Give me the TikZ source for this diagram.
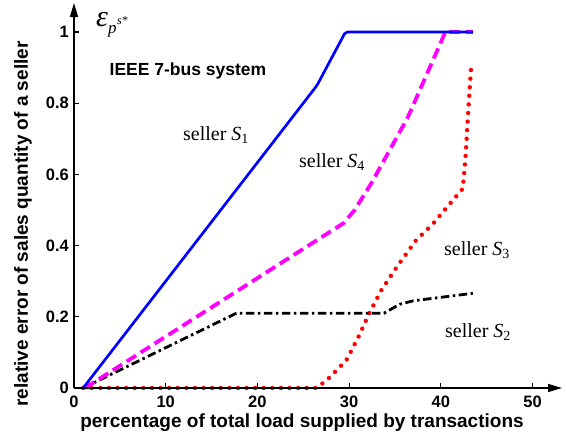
\documentclass[tikz,border=0pt]{standalone}
\usepackage{fontspec}
\setmainfont{Liberation Serif}
\setsansfont{Liberation Sans}
\usetikzlibrary{arrows.meta}
\definecolor{cblue}{RGB}{0,0,255}
\definecolor{cred}{RGB}{255,0,0}
\definecolor{cmag}{RGB}{255,0,255}
\begin{document}
\begin{tikzpicture}[x=1pt,y=-1pt,
  axisline/.style={line width=1.4pt,-{Triangle[length=14pt,width=8pt]}},
  tickline/.style={line width=1.2pt},
  ticklab/.style={font=\sffamily\bfseries\fontsize{16.5}{16.5}\selectfont,inner sep=0pt},
  axislab/.style={font=\sffamily\bfseries\fontsize{19}{19}\selectfont,inner sep=0pt},
  syslab/.style={font=\sffamily\bfseries\fontsize{17.5}{17.5}\selectfont,inner sep=0pt},
  sellerlab/.style={font=\fontsize{20}{20}\selectfont,inner sep=0pt},
  curveA/.style={draw=cblue,line width=2.7pt,line join=round},
  curveB/.style={draw=black,line width=2.8pt,dash pattern=on 8.5pt off 3.5pt on 2.5pt off 3.5pt},
  curveC/.style={draw=cred,line width=4.4pt,line cap=round,dash pattern=on 0pt off 8.6pt},
  curveD/.style={draw=cmag,line width=3.8pt,dash pattern=on 11pt off 5.5pt}]
\useasboundingbox (0,0) rectangle (567,439);
\coordinate (O) at (74,388);
\coordinate (xtip) at (562,388);
\coordinate (ytip) at (74,3);
\begin{scope}[shift={(74,388)},x=9.17pt,y=356pt]
  % curves
  \draw[curveC] (1,0) -- (26.5,0) -- (27.8,0.028) -- (29.7,0.078) -- (31.1,0.148) -- (32.2,0.21) -- (33.5,0.274) -- (35.2,0.34) -- (37.3,0.415) -- (39.1,0.46) -- (41.3,0.527) -- (42.4,0.56) -- (42.7,0.65) -- (43,0.78) -- (43.3,0.9);
  \draw[curveB] (1,0) -- (17.7,0.21) -- (33.8,0.21) -- (35.5,0.235) -- (37,0.245) -- (43.5,0.266);
  \draw[curveD] (1.2,0) -- (29.4,0.463) -- (30.6,0.5) -- (32.4,0.574) -- (34.4,0.667) -- (36.4,0.76) -- (40.5,1) -- (43.5,1);
  \draw[curveA,rounded corners=2pt] (1,0) -- (26.5,0.85) -- (29.6,1) -- (43.5,1);
  % ticks
  \foreach \v in {0.2,0.4,0.6,0.8,1}
    \draw[tickline] (0,\v) -- ++(5pt,0pt);
  \foreach \v/\t in {0/0,0.2/0.2,0.4/0.4,0.6/0.6,0.8/0.8,1/1}
    \node[ticklab,anchor=east] (yl\t) at ([xshift=-5pt]0,\v) {\t};
  \foreach \u in {10,20,30,40,50}
    \draw[tickline] (\u,0) -- ++(0pt,5pt);
  \foreach \u in {0,10,20,30,40,50}
    \node[ticklab,anchor=north] (xl\u) at ([yshift=-8pt]\u,0) {\u};
\end{scope}
\draw[axisline] (O) -- (xtip);
\draw[axisline] (O) -- (ytip);
% labels
\node[axislab] (xlab) at (302,423) {percentage of total load supplied by transactions};
\node[axislab,rotate=90] (ylab) at (23,224) {relative error of sales quantity of a seller};
\node[syslab] (sys) at (188,71) {IEEE 7-bus system};
\node[inner sep=0pt,anchor=base west] (eps) at (96,27)
  {\fontsize{30}{30}\selectfont\itshape ε\raisebox{-6pt}{\fontsize{17}{17}\selectfont p\kern0.5pt\raisebox{8pt}{\fontsize{12}{12}\selectfont s*}}};
\node[sellerlab] (s1) at (216,135) {seller \textit{S}\textsubscript{1}};
\node[sellerlab] (s4) at (332,162) {seller \textit{S}\textsubscript{4}};
\node[sellerlab] (s3) at (477,250) {seller \textit{S}\textsubscript{3}};
\node[sellerlab] (s2) at (478,332) {seller \textit{S}\textsubscript{2}};
\end{tikzpicture}
\end{document}
